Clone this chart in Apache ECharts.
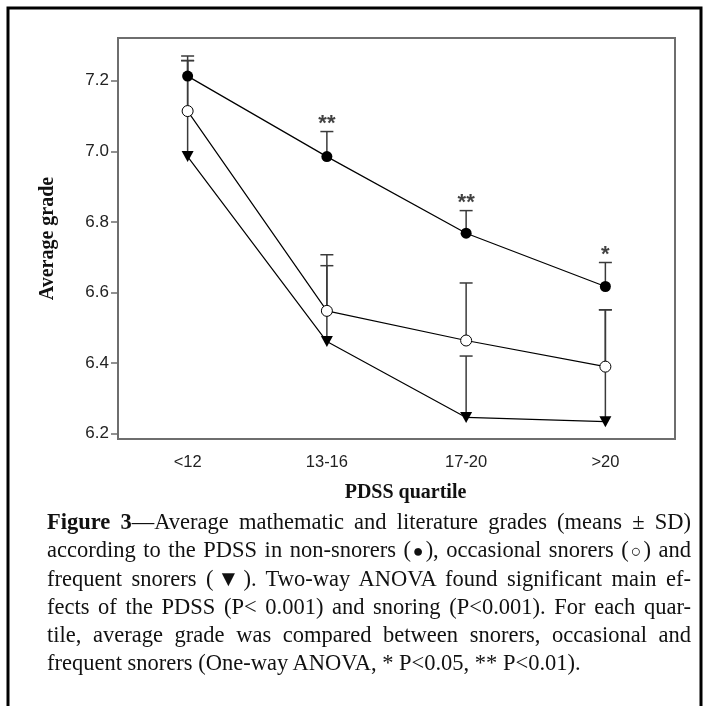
<!DOCTYPE html>
<html>
<head>
<meta charset="utf-8">
<script src="https://cdn.jsdelivr.net/npm/echarts@6/dist/echarts.min.js"></script>
<style>
  html, body { margin: 0; padding: 0; background: #fff; }
  #wrap { position: relative; width: 710px; height: 706px; overflow: hidden; }
  #chart { position: absolute; left: 0; top: 0; width: 710px; height: 706px; }
  #caption { position: absolute; left: 47px; top: 508px; width: 644px;
    font-family: "Liberation Serif", "Times New Roman", serif; font-size: 22.5px; line-height: 28px; color: #111; }
  #caption .l { display: block; white-space: nowrap; text-align: justify; text-align-last: justify; }
  #caption .last { text-align: left; text-align-last: left; }
  #caption .sym { font-size: 18px; }
</style>
</head>
<body>
<div id="wrap">
  <div id="chart"></div>
  <div id="caption">
    <span class="l"><b>Figure 3</b>—Average mathematic and literature grades (means ± SD)</span>
    <span class="l">according to the PDSS in non-snorers (<span class="sym">●</span>), occasional snorers (<span class="sym">○</span>) and</span>
    <span class="l">frequent snorers (▼). Two-way ANOVA found significant main ef-</span>
    <span class="l">fects of the PDSS (P&lt; 0.001) and snoring (P&lt;0.001). For each quar-</span>
    <span class="l">tile, average grade was compared between snorers, occasional and</span>
    <span class="l last">frequent snorers (One-way ANOVA, * P&lt;0.05, ** P&lt;0.01).</span>
  </div>
</div>
<script>
const categories = ['<12', '13-16', '17-20', '>20'];
const yTickValues = [6.2, 6.4, 6.6, 6.8, 7.0, 7.2];

const nonSnorers = [7.213, 6.985, 6.768, 6.617];
const nonSnorersUpper = [7.270, 7.056, 6.832, 6.685];
const occasional = [7.114, 6.548, 6.464, 6.390];
const occasionalUpper = [7.257, 6.707, 6.627, 6.551];
const frequent = [6.985, 6.461, 6.246, 6.234];
const frequentUpper = [7.257, 6.676, 6.420, 6.551];
const sigLabels = ['', '**', '**', '*'];

const chart = echarts.init(document.getElementById('chart'), null, { renderer: 'canvas' });

function errorBars(values, upper) {
  return {
    type: 'custom',
    z: 1,
    silent: true,
    data: values.map((v, i) => [i, v, upper[i]]),
    renderItem: function (params, api) {
      const p = api.coord([api.value(0), api.value(1)]);
      const t = api.coord([api.value(0), api.value(2)]);
      const st = { stroke: '#3a3a3a', lineWidth: 1.5 };
      return {
        type: 'group',
        children: [
          { type: 'line', shape: { x1: p[0], y1: p[1], x2: t[0], y2: t[1] }, style: st },
          { type: 'line', shape: { x1: t[0] - 6.5, y1: t[1], x2: t[0] + 6.5, y2: t[1] }, style: st }
        ]
      };
    }
  };
}

const lineStyle = { color: '#000', width: 1.2 };

chart.setOption({
  animation: false,
  backgroundColor: '#fff',
  grid: { left: 118, right: 35, top: 38, bottom: 267, show: true, borderColor: '#6e6e6e', borderWidth: 2, backgroundColor: 'transparent' },
  xAxis: {
    type: 'category',
    data: categories,
    boundaryGap: true,
    name: 'PDSS quartile',
    nameLocation: 'middle',
    nameGap: 44,
    nameTextStyle: { fontFamily: 'Liberation Serif', fontWeight: 'bold', fontSize: 20, color: '#111', padding: [0, 0, 0, 18] },
    axisLine: { lineStyle: { color: '#6e6e6e', width: 2 } },
    axisTick: { alignWithLabel: true, length: 5, lineStyle: { color: '#6e6e6e', width: 1.5 } },
    axisLabel: { fontFamily: 'Liberation Sans', fontSize: 16.5, color: '#222', margin: 15 },
    splitLine: { show: false }
  },
  yAxis: {
    type: 'value',
    min: 6.185,
    max: 7.321,
    name: 'Average grade',
    nameLocation: 'middle',
    nameRotate: 90,
    nameGap: 60,
    nameTextStyle: { fontFamily: 'Liberation Serif', fontWeight: 'bold', fontSize: 20, color: '#111' },
    axisLine: { show: true, lineStyle: { color: '#6e6e6e', width: 2 } },
    axisTick: { show: true, length: 7, customValues: yTickValues, lineStyle: { color: '#6e6e6e', width: 1.5 } },
    axisLabel: { fontFamily: 'Liberation Sans', fontSize: 17, color: '#222', margin: 9, customValues: yTickValues,
      formatter: v => v.toFixed(1) },
    splitLine: { show: false }
  },
  graphic: [
    { type: 'rect', shape: { x: 8, y: 8, width: 693, height: 740 }, style: { fill: 'none', stroke: '#000', lineWidth: 3 }, silent: true }
  ],
  series: [
    errorBars(nonSnorers, nonSnorersUpper),
    errorBars(occasional, occasionalUpper),
    errorBars(frequent, frequentUpper),
    {
      name: 'Non-snorers', type: 'line', z: 3, data: nonSnorers,
      symbol: 'circle', symbolSize: 11, showAllSymbol: true,
      lineStyle: lineStyle, itemStyle: { color: '#000' }
    },
    {
      name: 'Occasional snorers', type: 'line', z: 3, data: occasional,
      symbol: 'circle', symbolSize: 11, showAllSymbol: true,
      lineStyle: lineStyle, itemStyle: { color: '#fff', borderColor: '#000', borderWidth: 1 }
    },
    {
      name: 'Frequent snorers', type: 'line', z: 3, data: frequent,
      symbol: 'triangle', symbolRotate: 180, symbolSize: [12, 11], showAllSymbol: true,
      lineStyle: lineStyle, itemStyle: { color: '#000' }
    },
    {
      name: 'Significance', type: 'scatter', z: 4, silent: true,
      data: nonSnorersUpper.map((v, i) => [i, v]),
      symbolSize: 0,
      label: {
        show: true, position: 'top', distance: -3,
        formatter: p => sigLabels[p.dataIndex],
        fontFamily: 'Liberation Sans', fontSize: 22, fontWeight: 'bold', color: '#111'
      }
    }
  ]
});
</script>
</body>
</html>
